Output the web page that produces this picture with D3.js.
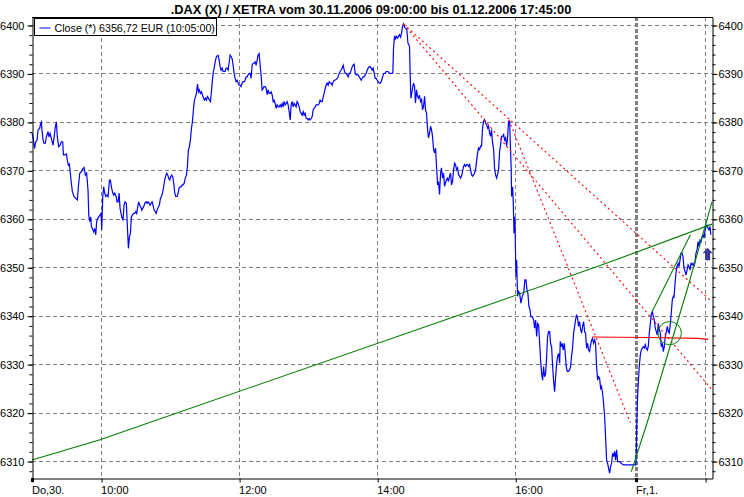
<!DOCTYPE html>
<html>
<head>
<meta charset="utf-8">
<script src="https://cdn.jsdelivr.net/npm/d3@7"></script>
<style>
body { margin: 0; background: #fff; }
text { font-family: Arial, "Liberation Sans", sans-serif; font-size: 11px; }
</style>
</head>
<body>
<svg id="chart" width="744" height="497"></svg>
<script>
// session minutes since 09:00, close value
const thursday = [
  [0.0,6377.6],[0.9,6376.9],[2.3,6374.5],[2.9,6375.6],[4.4,6376.3],[5.2,6378.3],[6.7,6378.7],[7.5,6379.7],[8.1,6380.0],[8.7,6378.3],
  [9.6,6376.3],[10.4,6375.6],[11.6,6375.6],[12.5,6376.9],[13.9,6378.0],[14.8,6376.9],[15.7,6377.6],[16.8,6376.6],[18.3,6375.2],[19.1,6376.6],
  [20.3,6379.0],[21.2,6380.0],[22.0,6376.9],[23.2,6374.9],[24.4,6375.2],[25.5,6375.9],[26.7,6375.9],[27.3,6373.2],[28.4,6373.2],[29.9,6373.4],
  [30.7,6372.1],[31.6,6371.1],[32.5,6371.3],[33.3,6369.4],[34.2,6367.3],[35.1,6365.6],[36.5,6364.6],[38.0,6364.2],[39.4,6363.9],[40.3,6366.6],
  [41.5,6369.4],[42.9,6369.7],[44.4,6370.4],[45.2,6370.6],[46.4,6369.0],[47.5,6369.4],[48.7,6365.9],[49.3,6360.8],[50.2,6359.4],[51.0,6360.4],
  [51.6,6358.4],[52.5,6358.0],[53.6,6357.3],[54.5,6358.0],[55.4,6356.7],[56.2,6359.4],[57.1,6360.1],[58.0,6360.4],[59.2,6360.8],[60.0,6361.1],
  [60.6,6357.7],[61.5,6364.6],[62.3,6366.6],[63.2,6365.3],[64.1,6364.6],[65.2,6364.9],[66.1,6364.6],[67.3,6368.0],[68.1,6368.0],[69.0,6366.6],
  [70.2,6365.3],[71.0,6364.9],[71.9,6365.3],[73.1,6364.6],[73.9,6363.5],[74.8,6363.5],[75.7,6365.3],[76.5,6362.2],[77.4,6361.1],[78.3,6360.1],
  [79.1,6359.8],[80.0,6362.8],[80.9,6363.5],[82.0,6363.2],[82.9,6358.4],[83.8,6353.9],[84.7,6356.3],[85.5,6357.0],[86.4,6360.4],[87.3,6360.8],
  [88.4,6361.1],[89.3,6361.1],[90.2,6361.5],[91.0,6361.1],[91.9,6362.5],[92.8,6363.5],[93.6,6362.8],[94.5,6362.5],[95.4,6361.8],[96.3,6362.2],
  [97.1,6362.5],[98.0,6363.2],[99.1,6363.5],[100.0,6363.2],[100.9,6363.5],[101.8,6363.2],[102.6,6362.8],[103.5,6363.2],[104.4,6363.5],[105.2,6362.8],
  [106.1,6361.8],[107.0,6361.5],[107.9,6361.1],[108.7,6361.8],[109.9,6362.5],[110.7,6362.8],[111.6,6364.2],[112.5,6364.6],[113.4,6365.3],[114.2,6366.3],
  [115.1,6367.7],[116.0,6368.7],[117.1,6369.4],[118.0,6369.0],[118.9,6368.3],[119.7,6368.0],[120.6,6368.7],[121.5,6369.0],[122.3,6368.7],[123.2,6367.3],
  [124.1,6365.3],[124.9,6364.6],[126.1,6364.6],[127.0,6365.3],[127.8,6366.3],[128.7,6366.6],[129.6,6366.6],[130.5,6367.0],[131.3,6367.0],[132.2,6367.3],
  [133.1,6368.3],[134.2,6369.0],[135.1,6370.8],[135.9,6374.2],[136.8,6374.9],[137.7,6376.3],[138.6,6378.7],[139.4,6380.0],[140.3,6382.5],[141.2,6384.5],
  [142.1,6385.2],[142.9,6385.9],[143.8,6387.8],[144.7,6386.2],[145.5,6386.6],[146.4,6385.9],[147.3,6386.2],[148.1,6385.6],[149.0,6384.9],[149.9,6384.5],
  [150.8,6384.9],[151.6,6384.5],[152.5,6385.2],[153.4,6384.9],[154.2,6384.5],[155.1,6384.2],[155.7,6385.6],[156.6,6388.0],[157.4,6390.0],[158.3,6391.1],
  [159.2,6392.4],[160.3,6393.5],[161.8,6393.7],[162.6,6392.8],[163.5,6391.4],[164.3,6390.7],[165.2,6391.1],[166.1,6390.4],[167.0,6390.4],[167.8,6390.4],
  [168.7,6391.1],[169.6,6391.1],[170.4,6390.7],[171.3,6392.1],[172.2,6393.8],[173.0,6393.5],[173.9,6393.1],[174.8,6391.7],[175.7,6390.0],[176.5,6389.0],
  [177.4,6388.3],[178.3,6388.6],[179.1,6388.0],[180.0,6387.6],[180.9,6387.6],[181.7,6387.3],[182.6,6388.0],[183.5,6388.3],[184.4,6388.3],[185.2,6388.6],
  [186.1,6389.3],[187.0,6389.3],[187.8,6389.7],[188.7,6390.0],[189.6,6390.0],[190.4,6389.0],[191.3,6391.7],[192.2,6392.1],[193.0,6392.1],[193.9,6392.4],
  [194.8,6391.7],[195.7,6392.8],[196.5,6393.8],[197.4,6394.1],[198.3,6391.7],[199.1,6389.7],[200.0,6386.6],[200.9,6386.9],[201.7,6387.3],[202.6,6387.3],
  [203.5,6386.9],[204.4,6385.6],[205.2,6386.6],[206.1,6385.9],[207.0,6385.9],[207.8,6386.2],[208.7,6385.6],[209.6,6384.2],[210.4,6384.5],[211.3,6383.8],
  [212.2,6382.8],[213.0,6383.5],[213.9,6383.1],[214.8,6383.1],[215.7,6383.5],[216.5,6383.1],[217.4,6383.8],[218.3,6383.1],[219.1,6384.2],[220.0,6383.5],
  [220.9,6383.8],[221.7,6384.2],[222.6,6383.5],[223.5,6382.1],[224.4,6380.4],[225.2,6383.5],[226.1,6384.2],[227.0,6383.1],[227.8,6383.8],[228.7,6383.5],
  [229.6,6383.1],[230.4,6384.2],[231.3,6383.8],[232.2,6383.1],[233.1,6382.1],[233.9,6381.8],[234.8,6381.4],[235.7,6382.1],[236.5,6381.4],[237.4,6381.8],
  [238.3,6380.7],[239.1,6380.7],[240.0,6380.4],[240.9,6380.7],[241.7,6380.4],[242.6,6380.7],[243.5,6381.1],[244.4,6382.5],[245.2,6382.8],[246.1,6383.1],
  [247.0,6383.5],[247.8,6383.5],[248.7,6383.5],[249.6,6383.8],[250.4,6384.5],[251.3,6384.2],[252.2,6384.2],[253.1,6385.2],[253.9,6385.9],[254.8,6386.9],
  [255.7,6387.6],[256.5,6388.0],[257.4,6387.6],[258.3,6388.3],[259.1,6388.0],[260.0,6388.0],[260.9,6387.6],[261.8,6388.3],[262.6,6388.6],[263.5,6388.6],
  [264.4,6388.8],[265.2,6389.0],[266.1,6389.3],[267.0,6390.0],[267.8,6390.4],[268.7,6390.7],[269.6,6391.1],[270.5,6391.7],[271.3,6390.7],[272.2,6390.0],
  [273.1,6390.0],[273.9,6389.7],[274.8,6389.3],[275.7,6390.0],[276.5,6390.0],[277.4,6390.7],[278.3,6391.4],[279.1,6391.7],[280.0,6391.9],[280.9,6390.0],
  [281.8,6389.7],[282.6,6389.7],[283.5,6389.7],[284.4,6389.3],[285.2,6389.0],[286.1,6388.6],[287.0,6389.0],[287.8,6389.3],[288.7,6389.3],[289.6,6389.7],
  [290.5,6390.0],[291.3,6390.7],[292.2,6391.1],[293.1,6391.4],[293.9,6391.4],[294.8,6391.1],[295.7,6390.7],[296.5,6391.1],[297.4,6390.0],[298.3,6389.0],
  [299.1,6389.0],[300.0,6388.6],[300.9,6388.3],[301.8,6388.0],[302.6,6388.0],[303.5,6388.3],[304.4,6389.0],[305.2,6389.7],[306.1,6390.0],[307.0,6390.0],
  [307.8,6390.4],[308.7,6390.4],[309.6,6390.4],[310.5,6390.0],[311.3,6390.0],[312.2,6390.0],[313.1,6390.0],[313.6,6390.1],[314.2,6395.2],[315.1,6397.7],
  [315.9,6397.0],[316.5,6397.7],[317.7,6397.3],[318.6,6397.7],[319.4,6398.0],[320.3,6397.5],[321.2,6398.3],[322.0,6399.7],[322.9,6400.2],[323.8,6399.5],
  [324.6,6399.4],[325.8,6399.0],[326.7,6396.3],[327.5,6395.9],[328.1,6395.6],[328.7,6389.7],[329.3,6384.9],[330.1,6386.0],[331.0,6387.3],[331.6,6388.0],
  [332.5,6387.3],[333.3,6383.9],[334.2,6386.6],[335.1,6385.3],[335.9,6384.9],[336.8,6385.5],[337.7,6384.2],[338.6,6384.6],[339.4,6382.5],[340.3,6383.2],
  [341.2,6385.3],[342.0,6382.5],[342.9,6381.8],[343.8,6378.4],[344.6,6376.7],[345.5,6377.7],[346.4,6379.1],[347.2,6378.4],[348.1,6377.0],[349.0,6374.3],
  [349.9,6373.6],[350.7,6374.6],[351.6,6370.8],[352.5,6367.0],[353.3,6367.7],[354.2,6365.0],[355.1,6369.4],[355.9,6370.5],[356.8,6368.4],[357.7,6369.4],
  [358.6,6366.7],[359.4,6367.4],[360.3,6368.1],[361.2,6368.4],[362.0,6367.7],[362.9,6368.8],[363.8,6369.4],[364.6,6367.0],[365.5,6367.7],[366.4,6370.1],
  [367.3,6371.5],[368.1,6371.2],[369.0,6370.1],[369.9,6370.5],[370.7,6369.1],[371.6,6368.8],[372.5,6368.4],[373.3,6368.8],[374.2,6369.8],[375.1,6370.8],
  [375.9,6371.2],[376.8,6370.8],[377.7,6371.2],[378.6,6371.2],[379.4,6370.8],[380.3,6371.2],[381.2,6370.1],[382.0,6369.1],[382.9,6368.8],[383.8,6369.1],
  [384.6,6369.4],[385.5,6370.1],[386.4,6371.9],[387.3,6373.6],[388.1,6374.6],[389.0,6374.3],[389.9,6375.0],[390.7,6375.0],[391.6,6378.7],[392.5,6380.1],
  [393.3,6380.5],[394.2,6379.8],[395.1,6379.4],[396.0,6378.7],[396.8,6379.1],[397.7,6377.7],[398.6,6377.0],[399.4,6378.4],[400.3,6375.6],[401.2,6374.3],
  [402.0,6370.5],[402.9,6369.1],[403.8,6368.4],[404.6,6369.1],[405.5,6370.1],[406.4,6373.9],[407.3,6375.3],[408.1,6377.0],[409.0,6377.0],[409.9,6377.4],
  [410.7,6376.3],[411.6,6376.7],[412.5,6375.0],[413.3,6376.7],[414.2,6380.1],[415.1,6380.1],[415.7,6375.6],[416.5,6370.1],[416.8,6364.6],[417.7,6366.6],
  [418.3,6363.2],[418.9,6357.0],[419.7,6360.4],[420.0,6356.3],[420.6,6348.1],[421.2,6351.5],[422.0,6344.0],[422.9,6345.0],[423.8,6344.6],[424.9,6342.6],
  [426.1,6344.0],[427.3,6344.6],[428.4,6347.4],[429.3,6347.4],[430.2,6345.3],[431.0,6344.6],[431.9,6341.9],[432.8,6341.2],[433.6,6339.8],[434.8,6339.8],
  [436.0,6339.1],[436.8,6337.4],[437.7,6339.1],[438.6,6335.7],[439.4,6338.4],[440.3,6338.1],[441.2,6334.3],[442.0,6330.9],[442.9,6328.1],[443.8,6326.7],
  [444.6,6329.5],[445.5,6327.4],[446.4,6328.1],[447.3,6331.6],[448.1,6335.7],[449.0,6336.7],[449.9,6336.7],[450.7,6334.3],[451.6,6333.6],[452.5,6329.5],
  [453.3,6326.7],[454.2,6324.3],[455.1,6327.4],[456.0,6330.2],[456.8,6331.6],[457.7,6332.2],[458.6,6330.2],[459.1,6334.7],[460.0,6333.6],[460.8,6334.3],
  [461.7,6332.9],[462.6,6334.3],[463.4,6332.3],[464.3,6329.5],[465.2,6328.5],[466.3,6328.5],[467.2,6328.8],[468.1,6329.5],[468.9,6331.6],[469.8,6333.3],
  [470.7,6336.4],[471.6,6337.8],[472.4,6339.1],[473.3,6340.2],[474.2,6339.5],[475.0,6337.8],[475.9,6338.8],[476.8,6337.1],[477.7,6336.4],[478.5,6337.8],
  [479.4,6338.8],[480.3,6336.7],[481.1,6336.4],[482.0,6333.3],[482.9,6334.3],[483.7,6332.9],[484.6,6332.6],[485.5,6334.0],[486.4,6335.0],[487.2,6335.3],
  [488.1,6334.3],[489.0,6335.0],[489.8,6334.3],[490.7,6329.5],[491.6,6326.7],[492.4,6327.4],[493.3,6327.1],[494.2,6325.0],[495.0,6325.4],[495.9,6324.0],
  [496.8,6321.9],[497.7,6319.2],[498.5,6315.0],[499.4,6310.2],[500.3,6309.5],[501.1,6308.5],[502.0,6307.5],[502.9,6308.9],[503.7,6309.5],[504.6,6311.6],
  [505.5,6310.9],[506.4,6312.0],[507.2,6310.2],[508.1,6312.3],[509.0,6309.9],[509.8,6309.9],[510.7,6309.9],[512.4,6309.5],[514.2,6309.2],[518.5,6309.2],
  [524.8,6309.2]
];
const friday = [
  [0.0,6310.0],[0.5,6316.4],[1.1,6321.9],[1.9,6326.1],[2.8,6329.5],[3.7,6331.9],[4.5,6332.9],[5.4,6333.3],[6.3,6333.6],[7.2,6333.3],
  [8.0,6334.0],[8.9,6333.3],[9.8,6332.9],[10.6,6333.6],[11.5,6336.4],[12.4,6338.4],[13.2,6340.2],[14.1,6340.9],[15.0,6339.8],[15.9,6339.1],
  [16.7,6337.4],[17.6,6336.7],[18.5,6336.0],[19.3,6338.4],[20.2,6337.1],[21.1,6336.4],[21.9,6333.6],[22.8,6334.3],[23.7,6332.6],[24.5,6333.6],
  [25.4,6335.7],[26.3,6336.7],[27.2,6337.8],[28.0,6336.7],[28.9,6336.4],[29.8,6338.4],[30.6,6340.5],[31.5,6343.3],[32.4,6344.0],[33.0,6343.9],
  [33.9,6346.7],[34.7,6348.8],[35.6,6350.1],[36.5,6350.8],[37.3,6350.1],[38.2,6351.5],[39.1,6352.9],[40.0,6352.9],[40.8,6352.2],[41.7,6349.8],
  [42.6,6349.1],[43.4,6348.4],[44.3,6349.4],[45.2,6350.5],[46.0,6350.1],[46.9,6349.4],[47.8,6350.8],[48.7,6350.5],[49.5,6350.8],[50.4,6350.1],
  [51.3,6351.2],[52.1,6352.9],[53.0,6353.6],[53.9,6355.3],[54.7,6354.3],[55.6,6355.6],[56.5,6355.3],[57.4,6356.3],[58.2,6356.7],[59.1,6356.0],
  [60.0,6357.7],[60.8,6358.4],[61.7,6358.7],[62.6,6358.0],[63.4,6357.7],[64.3,6358.4],[65.0,6356.7]
];

const yMajor = [6310, 6320, 6330, 6340, 6350, 6360, 6370, 6380, 6390, 6400];
const yMinor = d3.range(6308, 6401, 2);
const hourTicks = [["Do", 60, "10:00"], ["Do", 180, "12:00"], ["Do", 300, "14:00"], ["Do", 420, "16:00"], ["Fr", 60, ""]];
const dayTicks = [["Do", 0, "Do,30."], ["Fr", 0, "Fr,1."]];

// drawn studies: [day, minute, value]
const redDashed = [
  [["Do", 322.9, 6400.2], ["Fr", 66, 6342.9]],
  [["Do", 322.9, 6400.2], ["Fr", 66, 6324.7]],
  [["Do", 414.5, 6380.4], ["Do", 520, 6317.9]]
];
const redLevel = [["Do", 486.7, 6335.6], ["Fr", 10.7, 6335.5], ["Fr", 54.1, 6335.3], ["Fr", 62.8, 6335.1]];
const greenLines = [
  [["Do", 0, 6310.2], ["Do", 59.1, 6314.4], ["Do", 407, 6343.1], ["Do", 496.8, 6350.6], ["Fr", 66, 6358.9]],
  [["Do", 520.9, 6307.8], ["Fr", 9.5, 6317.8], ["Fr", 44.3, 6345.3], ["Fr", 66, 6363.5]],
  [["Fr", 13.9, 6340.8], ["Fr", 47.2, 6356.7]]
];
const greenCircle = { at: ["Fr", 29.2, 6336.4], halfMinutes: 10.2, halfPoints: 2.4 };
const arrowMark = ["Fr", 62.2, 6354.0];

const title = ".DAX (X) / XETRA vom 30.11.2006 09:00:00 bis 01.12.2006 17:45:00";
const legendText = "Close (*) 6356,72 EUR (10:05:00)";

const thuLength = 525;   // 09:00 - 17:45
const plot = { left: 32, right: 712, top: 17, bottom: 478 };
const gridColor = "#808080";

const x = d3.scaleLinear().domain([0, 591]).range([plot.left, plot.right]);
const y = d3.scaleLinear().domain([6306.5, 6401.65]).range([plot.bottom, plot.top]);

function pos(day, t) { return day === "Fr" ? thuLength + t : t; }
function px(p) { return x(pos(p[0], p[1])); }
function py(p) { return y(p[2]); }

const svg = d3.select("#chart");

// grid
svg.append("g").selectAll("line").data(yMajor).join("line")
  .attr("x1", plot.left).attr("x2", plot.right)
  .attr("y1", d => Math.round(y(d)) + 0.5).attr("y2", d => Math.round(y(d)) + 0.5)
  .attr("stroke", gridColor).attr("stroke-dasharray", "4,3");

svg.append("g").selectAll("line").data(hourTicks).join("line")
  .attr("x1", d => Math.round(x(pos(d[0], d[1]))) + 0.5).attr("x2", d => Math.round(x(pos(d[0], d[1]))) + 0.5)
  .attr("y1", plot.top).attr("y2", plot.bottom)
  .attr("stroke", gridColor).attr("stroke-dasharray", "4,3");

svg.append("line")  // day change
  .attr("x1", Math.round(x(thuLength)) + 0.5).attr("x2", Math.round(x(thuLength)) + 0.5)
  .attr("y1", plot.top).attr("y2", plot.bottom)
  .attr("stroke", gridColor).attr("stroke-width", 3).attr("stroke-dasharray", "4,2");

// price
const series = thursday.concat(friday.map(d => [thuLength + d[0], d[1]]));
svg.append("path")
  .datum(series)
  .attr("fill", "none").attr("stroke", "#0000ff").attr("stroke-width", 1.2)
  .attr("d", d3.line().x(d => x(d[0])).y(d => y(d[1])));

// studies
const studyLine = d3.line().x(px).y(py);
svg.append("g").selectAll("path").data(redDashed).join("path")
  .attr("fill", "none").attr("stroke", "#ff0000").attr("stroke-width", 1.1).attr("stroke-dasharray", "2,3")
  .attr("d", studyLine);
svg.append("path").datum(redLevel)
  .attr("fill", "none").attr("stroke", "#ff0000").attr("stroke-width", 1.2)
  .attr("d", studyLine);
svg.append("g").selectAll("path").data(greenLines).join("path")
  .attr("fill", "none").attr("stroke", "#008000").attr("stroke-width", 1.1)
  .attr("d", studyLine);
svg.append("ellipse")
  .attr("cx", px(greenCircle.at)).attr("cy", py(greenCircle.at))
  .attr("rx", x(greenCircle.halfMinutes) - x(0))
  .attr("ry", y(greenCircle.at[2] - greenCircle.halfPoints) - y(greenCircle.at[2]))
  .attr("fill", "none").attr("stroke", "#008000");

svg.append("path")
  .attr("transform", `translate(${px(arrowMark)},${py(arrowMark)})`)
  .attr("d", "M0,0 L5,5.5 L2.5,5.5 L2.5,12.5 L-2.5,12.5 L-2.5,5.5 L-5,5.5 Z")
  .attr("fill", "#38389a");

// axes
function styleAxis(g) {
  g.attr("font-size", null).attr("font-family", null);
  g.selectAll("text").attr("fill", "#000");
  g.selectAll("line, path").attr("stroke", "#000");
}

svg.append("g").attr("transform", `translate(${plot.left + 0.5},0.5)`)
  .call(d3.axisLeft(y).tickValues(yMinor).tickSize(3).tickSizeOuter(0).tickFormat(""))
  .call(g => g.select(".domain").remove());
svg.append("g").attr("transform", `translate(${plot.left + 0.5},0.5)`)
  .call(d3.axisLeft(y).tickValues(yMajor).tickSize(5).tickSizeOuter(0).tickPadding(3).tickFormat(d3.format("d")))
  .call(styleAxis);

svg.append("g").attr("transform", `translate(${plot.right + 0.5},0.5)`)
  .call(d3.axisRight(y).tickValues(yMinor).tickSize(3).tickSizeOuter(0).tickFormat(""))
  .call(g => g.select(".domain").remove());
svg.append("g").attr("transform", `translate(${plot.right + 0.5},0.5)`)
  .call(d3.axisRight(y).tickValues(yMajor).tickSize(5).tickSizeOuter(0).tickPadding(1).tickFormat(d3.format("d")))
  .call(styleAxis);

const labelOf = new Map(hourTicks.concat(dayTicks).map(d => [pos(d[0], d[1]), d[2]]));
svg.append("g").attr("transform", `translate(0.5,${plot.bottom + 0.5})`)
  .call(d3.axisBottom(x).tickValues(hourTicks.concat(dayTicks).map(d => pos(d[0], d[1])))
    .tickSize(4).tickSizeOuter(0).tickFormat(d => labelOf.get(d)))
  .call(styleAxis)
  .call(g => g.selectAll("text").attr("text-anchor", "start").attr("y", 8).attr("dx", -1));

svg.append("g").selectAll("rect").data(dayTicks).join("rect")
  .attr("x", d => Math.round(x(pos(d[0], d[1]))) - 1).attr("y", plot.bottom)
  .attr("width", 3).attr("height", 4).attr("fill", "#000");

// frame top
svg.append("line")
  .attr("x1", plot.left).attr("x2", plot.right + 1)
  .attr("y1", plot.top + 0.5).attr("y2", plot.top + 0.5).attr("stroke", "#000");

// legend
const legend = svg.append("g").attr("transform", "translate(34.5,18.5)");
legend.append("rect").attr("width", 182).attr("height", 17).attr("fill", "#fff").attr("stroke", "#000");
legend.append("line").attr("x1", 5).attr("x2", 16).attr("y1", 9.5).attr("y2", 9.5).attr("stroke", "#0000ff");
legend.append("text").attr("x", 20).attr("y", 13).style("font-size", "10.7px").text(legendText);

svg.append("text")
  .attr("x", 371).attr("y", 13.5).attr("text-anchor", "middle")
  .style("font-size", "12.8px").style("font-weight", "bold")
  .text(title);
</script>
</body>
</html>
